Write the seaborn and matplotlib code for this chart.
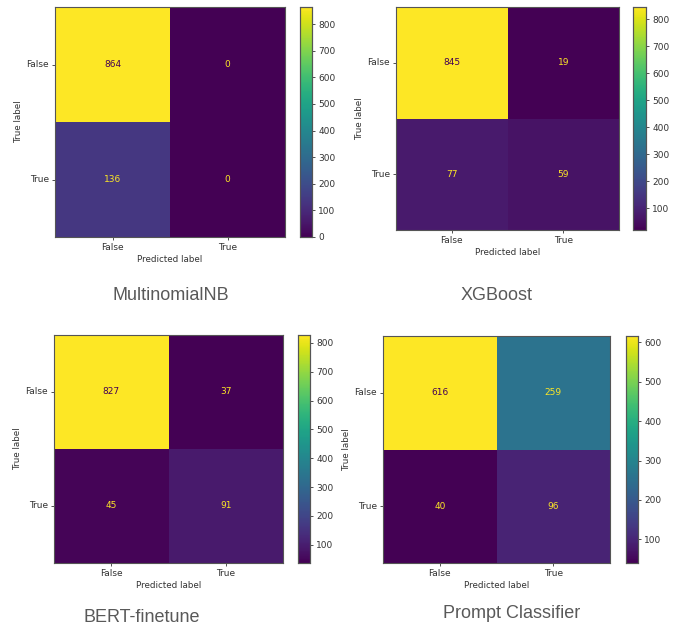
import numpy as np
import pandas as pd
import matplotlib
matplotlib.use("Agg")
import matplotlib.pyplot as plt
import seaborn as sns

# confusion matrices (rows = true label, cols = predicted label)
labels = ["False", "True"]
names = ["MultinomialNB", "XGBoost", "BERT-finetune", "Prompt Classifier"]
cm_nb = [[864, 0], [136, 0]]
cm_xgb = [[845, 19], [77, 59]]
cm_bert = [[827, 37], [45, 91]]
cm_prompt = [[616, 259], [40, 96]]
mats = [cm_nb, cm_xgb, cm_bert, cm_prompt]

W, H = 677, 628
fig = plt.figure(figsize=(W / 100, H / 100), dpi=100)

# pixel boxes: heatmap (left, top, right, bottom), colorbar (left, right), caption (x, y)
boxes = [
    ((55, 7, 285, 237), (300, 312), (171, 296)),
    ((396, 7, 619, 230), (633, 646), (497, 295)),
    ((54, 335, 283, 563), (298, 310), (142, 617)),
    ((383, 336, 610, 563), (626, 638), (512, 613)),
]

def frac(l, t, r, b):
    return [l / W, 1 - b / H, (r - l) / W, (b - t) / H]

cmap = plt.get_cmap("viridis")
fs = 6.5

for name, m, (hb, cb, cap) in zip(names, mats, boxes):
    l, t, r, b = hb
    ax = fig.add_axes(frac(l, t, r, b))
    cax = fig.add_axes(frac(cb[0], t, cb[1], b))
    df = pd.DataFrame(m, index=labels, columns=labels)
    sns.heatmap(df, ax=ax, cbar_ax=cax, cmap="viridis", annot=True, fmt="d",
                annot_kws={"fontsize": fs}, square=False)
    arr = np.array(m)
    thresh = (arr.max() + arr.min()) / 2
    for txt, v in zip(ax.texts, arr.flatten()):
        txt.set_color(cmap(0.0) if v >= thresh else cmap(1.0))
    for s in ax.spines.values():
        s.set_visible(True)
        s.set_color("#555555")
        s.set_linewidth(0.8)
    ax.tick_params(labelsize=fs, length=2.5, width=0.6, colors="#333333", pad=2)
    ax.set_yticklabels(labels, rotation=0)
    ax.set_xticklabels(labels, rotation=0)
    ax.set_xlabel("Predicted label", fontsize=6.3, color="#333333", labelpad=2)
    ax.set_ylabel("True label", fontsize=6.3, color="#333333", labelpad=2)
    cax.tick_params(labelsize=fs, length=2.5, width=0.6, colors="#333333", pad=2)
    for s in cax.spines.values():
        s.set_visible(True)
        s.set_color("#555555")
        s.set_linewidth(0.8)
    fig.text(cap[0] / W, 1 - cap[1] / H, name, ha="center", va="center",
             fontsize=13, color="#595959", family="Liberation Sans")

fig.savefig("out.png", dpi=100, facecolor="white")
